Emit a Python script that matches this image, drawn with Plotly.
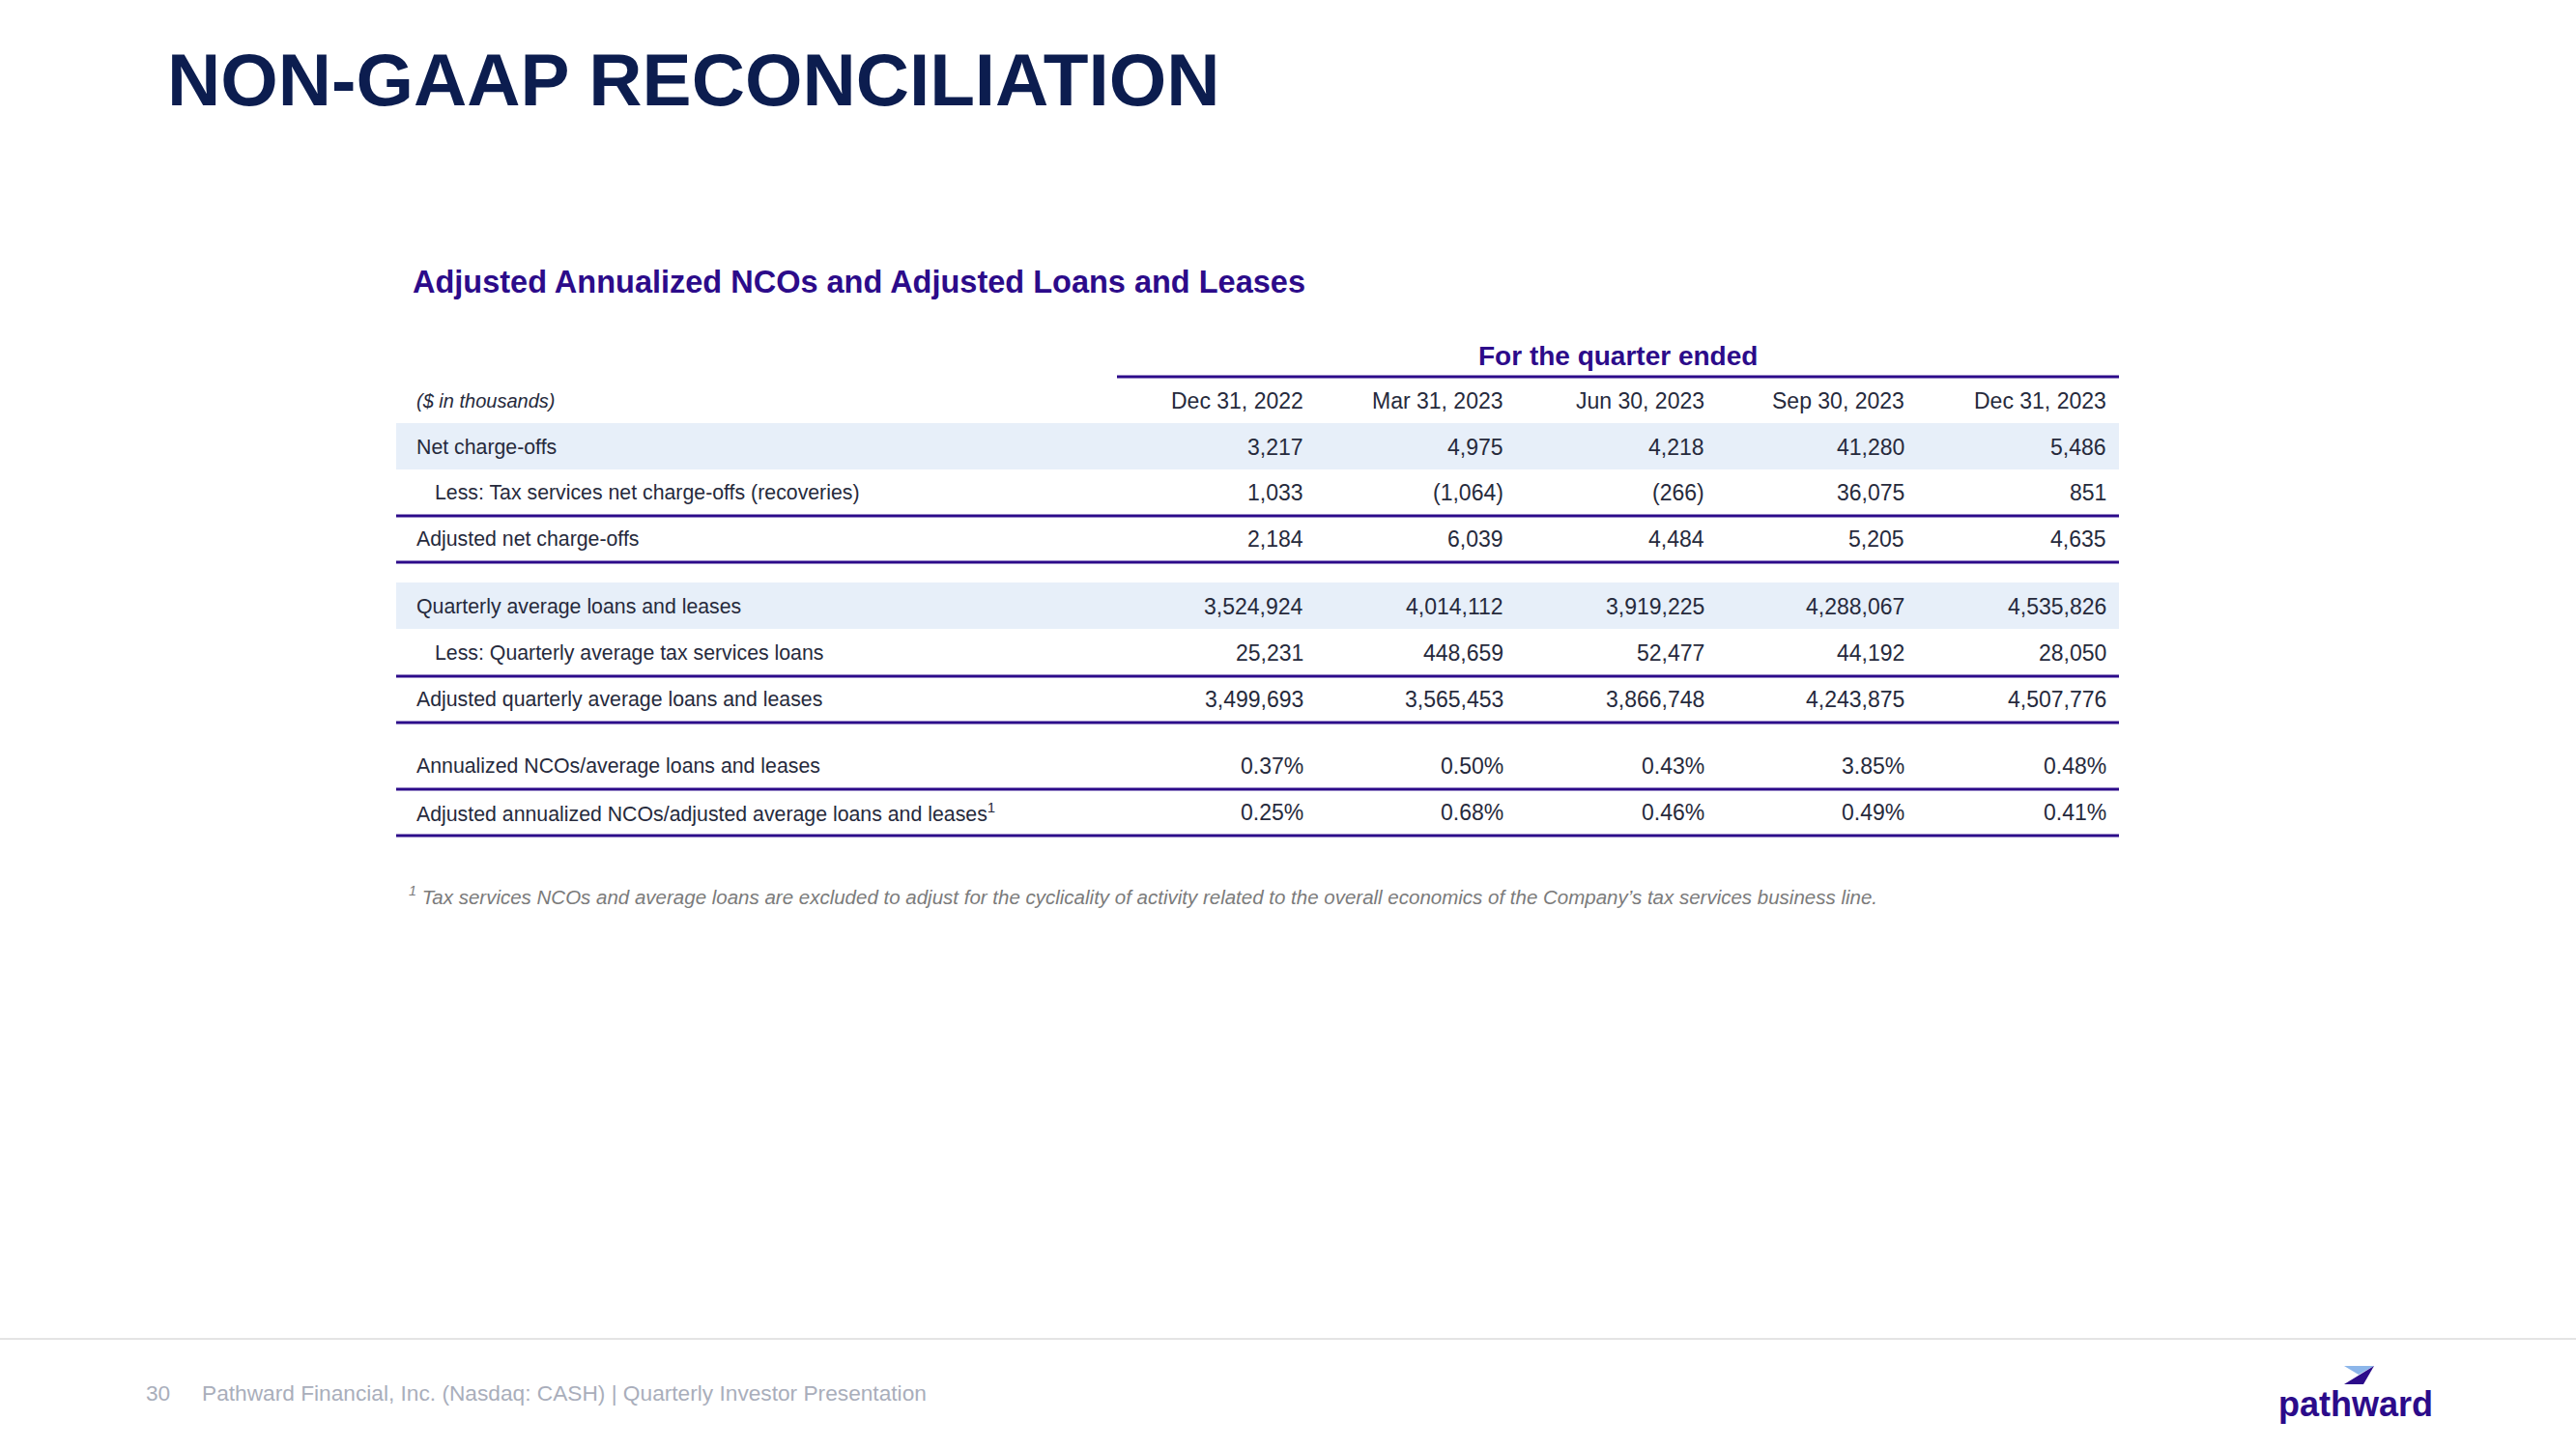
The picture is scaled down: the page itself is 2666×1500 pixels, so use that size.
import plotly.graph_objects as go

# ---------------- data ----------------
quarters = ["Dec 31, 2022", "Mar 31, 2023", "Jun 30, 2023", "Sep 30, 2023", "Dec 31, 2023"]

net_charge_offs = [3217, 4975, 4218, 41280, 5486]
tax_services_nco = [1033, -1064, -266, 36075, 851]
adjusted_nco = [2184, 6039, 4484, 5205, 4635]

avg_loans = [3524924, 4014112, 3919225, 4288067, 4535826]
tax_avg_loans = [25231, 448659, 52477, 44192, 28050]
adj_avg_loans = [3499693, 3565453, 3866748, 4243875, 4507776]

nco_ratio = [0.37, 0.50, 0.43, 3.85, 0.48]
adj_nco_ratio = [0.25, 0.68, 0.46, 0.49, 0.41]

row_labels = [
    "Net charge-offs",
    "Less: Tax services net charge-offs (recoveries)",
    "Adjusted net charge-offs",
    "Quarterly average loans and leases",
    "Less: Quarterly average tax services loans",
    "Adjusted quarterly average loans and leases",
    "Annualized NCOs/average loans and leases",
    "Adjusted annualized NCOs/adjusted average loans and leases<sup>1</sup>",
]
row_values = [net_charge_offs, tax_services_nco, adjusted_nco,
              avg_loans, tax_avg_loans, adj_avg_loans,
              nco_ratio, adj_nco_ratio]
row_kinds = ["num", "num", "num", "num", "num", "num", "pct", "pct"]

title = "NON-GAAP RECONCILIATION"
subtitle = "Adjusted Annualized NCOs and Adjusted Loans and Leases"
group_header = "For the quarter ended"
units_label = "<i>($ in thousands)</i>"
footnote = ("<i><sup>1</sup> Tax services NCOs and average loans are excluded to adjust for the cyclicality "
            "of activity related to the overall economics of the Company\u2019s tax services business line.</i>")
footer_page = "30"
footer_text = "Pathward Financial, Inc. (Nasdaq: CASH) | Quarterly Investor Presentation"
logo_text = "pathward"

# ---------------- layout constants ----------------
W, H = 2666, 1500
FONT = "Liberation Sans, Arial, Helvetica, sans-serif"
NAVY = "#0c1d4f"
PURPLE = "#2c0b8a"
TEXT = "#262a3c"
BAND = "#e7eff9"

TABLE_L, TABLE_R = 410, 2193
LABEL_X, INDENT_X = 430, 449
COL_RIGHT = [1350, 1557, 1765, 1972, 2181]
ROW_Y = [463, 510, 558, 628, 676, 724, 793, 841]
ROW_H = 48
INDENTED = [False, True, False, False, True, False, False, False]
BANDED = [True, False, False, True, False, False, False, False]
LINE_BELOW = [False, True, True, False, True, True, True, True]


def fmt(v, kind):
    if kind == "pct":
        return f"{v:.2f}%"
    if v < 0:
        return f"({abs(v):,})"
    return f"{v:,}"


fig = go.Figure()
fig.add_trace(go.Scatter(x=[0, W], y=[0, H], mode="markers", marker=dict(opacity=0), hoverinfo="skip"))

shapes = []
annotations = []

def text(x, y, s, size, color=TEXT, xanchor="left", bold=False, family=FONT):
    annotations.append(dict(
        x=x, y=y, xref="x", yref="y", text=(f"<b>{s}</b>" if bold else s), showarrow=False,
        xanchor=xanchor, yanchor="middle", align=xanchor if xanchor != "center" else "center",
        font=dict(family=family, size=size, color=color), borderpad=0))

# title / subtitle
text(172, 82, title, 76.5, NAVY, bold=True)
text(426, 292, subtitle, 32.5, PURPLE, bold=True)

# group header and rule
text((1156 + TABLE_R) / 2, 368, group_header, 28, PURPLE, xanchor="center", bold=True)
shapes.append(dict(type="line", xref="x", yref="y", x0=1156, x1=TABLE_R, y0=390, y1=390,
                   line=dict(color=PURPLE, width=3)))

# column header row
text(LABEL_X, 415, units_label, 20, TEXT)
for q, xr in zip(quarters, COL_RIGHT):
    text(xr, 415, q, 23, TEXT, xanchor="right")

# body rows
for i, (lab, vals, kind) in enumerate(zip(row_labels, row_values, row_kinds)):
    y = ROW_Y[i]
    if BANDED[i]:
        shapes.append(dict(type="rect", xref="x", yref="y", x0=TABLE_L, x1=TABLE_R,
                           y0=y - ROW_H / 2 - 1, y1=y + ROW_H / 2 - 1,
                           fillcolor=BAND, line=dict(width=0), layer="below"))
    if LINE_BELOW[i]:
        shapes.append(dict(type="line", xref="x", yref="y", x0=TABLE_L, x1=TABLE_R,
                           y0=y + 24, y1=y + 24, line=dict(color=PURPLE, width=3)))
    text(INDENT_X if INDENTED[i] else LABEL_X, y, lab, 21.3, TEXT)
    for v, xr in zip(vals, COL_RIGHT):
        text(xr, y, fmt(v, kind), 23, TEXT, xanchor="right")

# footnote
text(422, 927, footnote, 20.5, "#7b7b7b")

# footer
shapes.append(dict(type="line", xref="x", yref="y", x0=0, x1=W, y0=1386, y1=1386,
                   line=dict(color="#e4e4e4", width=2)))
text(150, 1442, footer_page, 22.7, "#a9aebb")
text(208, 1442, footer_text, 22.7, "#a9aebb")

# logo
text(2438, 1453, logo_text, 36, PURPLE, xanchor="center", bold=True)
shapes.append(dict(type="path", xref="x", yref="y",
                   path="M 2426 1414 L 2457 1414 L 2441 1423 Z",
                   fillcolor="#8cb6ea", line=dict(width=0)))
shapes.append(dict(type="path", xref="x", yref="y",
                   path="M 2457 1414 L 2426 1433 L 2446 1433 Z",
                   fillcolor=PURPLE, line=dict(width=0)))

fig.update_layout(
    width=W, height=H, margin=dict(l=0, r=0, t=0, b=0),
    paper_bgcolor="white", plot_bgcolor="white", showlegend=False,
    xaxis=dict(range=[0, W], visible=False, fixedrange=True),
    yaxis=dict(range=[H, 0], visible=False, fixedrange=True),
    shapes=shapes, annotations=annotations,
)

fig.write_html("out.html", config={"displayModeBar": False},
               post_script="document.body.style.margin='0';document.body.style.overflow='hidden';")
